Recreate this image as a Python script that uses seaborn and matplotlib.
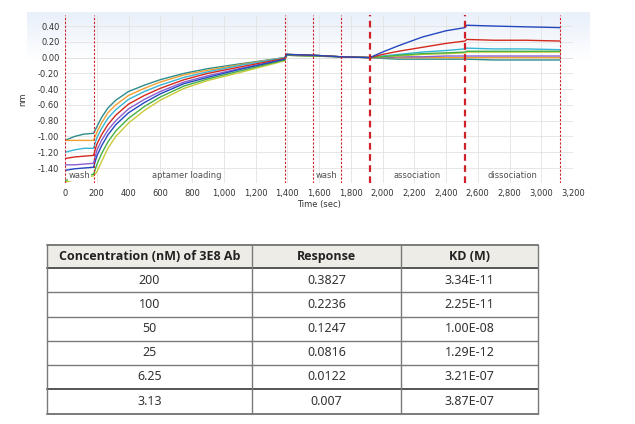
import numpy as np
import pandas as pd
import matplotlib
matplotlib.use("Agg")
import matplotlib.pyplot as plt
from matplotlib.patches import Rectangle
from matplotlib.ticker import FuncFormatter
import seaborn as sns

# ---------------- data ----------------
times = [0, 60, 120, 180, 200, 230, 270, 320, 400, 500, 600, 750, 900, 1100, 1385,
         1395, 1560, 1740, 1920, 2000, 2100, 2250, 2400, 2520, 2530, 2700, 2900, 3120]

teal   = [-1.05, -1.00, -0.97, -0.96, -0.88, -0.76, -0.64, -0.54, -0.43, -0.35, -0.28, -0.20, -0.14, -0.08, 0.00,
          0.04, 0.03, 0.01, 0.00, -0.01, -0.02, -0.02, -0.02, -0.02, -0.02, -0.03, -0.03, -0.03]
orange = [-1.05, -1.05, -1.05, -1.05, -0.95, -0.83, -0.70, -0.60, -0.48, -0.39, -0.31, -0.22, -0.16, -0.09, 0.00,
          0.04, 0.03, 0.01, 0.00, 0.00, 0.00, 0.00, 0.00, 0.00, 0.00, 0.00, 0.00, 0.00]
cyan   = [-1.20, -1.17, -1.15, -1.15, -1.02, -0.90, -0.77, -0.66, -0.53, -0.43, -0.35, -0.25, -0.18, -0.10, 0.00,
          0.04, 0.03, 0.01, 0.00, 0.02, 0.04, 0.07, 0.09, 0.11, 0.12, 0.11, 0.11, 0.10]
red    = [-1.28, -1.26, -1.25, -1.24, -1.10, -0.98, -0.85, -0.73, -0.59, -0.48, -0.39, -0.28, -0.20, -0.12, -0.01,
          0.04, 0.03, 0.01, 0.00, 0.04, 0.08, 0.13, 0.18, 0.21, 0.23, 0.22, 0.22, 0.21]
purple = [-1.36, -1.36, -1.35, -1.34, -1.18, -1.05, -0.92, -0.80, -0.65, -0.53, -0.43, -0.31, -0.23, -0.14, -0.02,
          0.03, 0.02, 0.01, 0.00, 0.00, 0.01, 0.01, 0.02, 0.02, 0.02, 0.02, 0.02, 0.02]
blue   = [-1.43, -1.41, -1.40, -1.39, -1.25, -1.12, -0.98, -0.85, -0.70, -0.57, -0.46, -0.33, -0.25, -0.15, -0.02,
          0.04, 0.03, 0.01, 0.00, 0.07, 0.15, 0.26, 0.34, 0.38, 0.41, 0.40, 0.39, 0.38]
green  = [-1.56, -1.53, -1.50, -1.48, -1.36, -1.22, -1.07, -0.93, -0.77, -0.62, -0.50, -0.36, -0.27, -0.17, -0.03,
          0.03, 0.02, 0.01, 0.00, 0.01, 0.03, 0.05, 0.06, 0.07, 0.08, 0.08, 0.08, 0.08]
yellow = [-1.58, -1.55, -1.52, -1.50, -1.45, -1.32, -1.15, -1.00, -0.83, -0.67, -0.54, -0.39, -0.29, -0.19, -0.04,
          0.03, 0.02, 0.01, 0.00, 0.01, 0.02, 0.04, 0.05, 0.06, 0.07, 0.07, 0.07, 0.07]

series_names = ["teal", "orange", "cyan", "purple", "yellow", "green", "red", "blue"]
series_values = [teal, orange, cyan, purple, yellow, green, red, blue]
series_colors = ["#2b8c8c", "#f0a030", "#35b5d5", "#8a5fd0", "#c9c93a", "#45b045", "#d42a1e", "#2448c0"]

step_times = [0, 180, 1385, 1560, 1740, 1920, 2520, 3120]
step_bold = [False, False, False, False, False, True, True, False]
step_names = ["wash", "aptamer loading", "wash", "association", "dissociation"]
step_label_x = [90, 770, 1650, 2220, 2820]

x_ticks = list(range(0, 3201, 200))
y_ticks = [0.40, 0.20, 0.00, -0.20, -0.40, -0.60, -0.80, -1.00, -1.20, -1.40]

table_header = ["Concentration (nM) of 3E8 Ab", "Response", "KD (M)"]
concentrations = ["200", "100", "50", "25", "6.25", "3.13"]
responses = ["0.3827", "0.2236", "0.1247", "0.0816", "0.0122", "0.007"]
kd_values = ["3.34E-11", "2.25E-11", "1.00E-08", "1.29E-12", "3.21E-07", "3.87E-07"]

# ---------------- figure ----------------
sns.set_theme(style="white")
plt.rcParams["font.family"] = ["DejaVu Sans"]

W, H = 635, 424
fig = plt.figure(figsize=(W / 100, H / 100), dpi=100)
fig.patch.set_facecolor("white")

def fbox(x0, y0, x1, y1):
    return [x0 / W, 1 - y1 / H, (x1 - x0) / W, (y1 - y0) / H]

# gradient background panel
bg = fig.add_axes(fbox(27, 12, 590, 186), zorder=0)
grad = np.linspace(0, 1, 200).reshape(-1, 1)
top_col = np.array([0.91, 0.94, 0.98])
white = np.array([1.0, 1.0, 1.0])
w = np.clip(grad / 0.28, 0, 1)
img = (top_col[None, None, :] * (1 - w[..., None]) + white[None, None, :] * w[..., None])
bg.imshow(img, aspect="auto", extent=[0, 1, 0, 1])
bg.set_axis_off()

ax = fig.add_axes(fbox(65, 15, 573, 183), zorder=1)
ax.set_facecolor("none")

rows = []
for name, vals in zip(series_names, series_values):
    for t, v in zip(times, vals):
        rows.append({"time": t, "value": v, "series": name})
df = pd.DataFrame(rows)

sns.lineplot(data=df, x="time", y="value", hue="series", hue_order=series_names,
             palette=dict(zip(series_names, series_colors)), estimator=None,
             sort=False, legend=False, lw=1.0, ax=ax)

for t, b in zip(step_times, step_bold):
    ax.axvline(t, color="#d0202a", lw=1.6 if b else 0.8,
               ls=(0, (3, 2)) if b else (0, (2, 1.5)), zorder=3)

for name, xpos in zip(step_names, step_label_x):
    ax.text(xpos, -1.50, name, ha="center", va="center", fontsize=6, color="#505050",
            bbox=dict(facecolor="white", edgecolor="none", pad=0.5) if name == "wash" and xpos < 200 else None,
            zorder=4)

ax.set_xlim(0, 3200)
ax.set_ylim(-1.59, 0.54)
ax.set_xticks(x_ticks)
ax.set_yticks(y_ticks)
ax.xaxis.set_major_formatter(FuncFormatter(lambda v, p: f"{int(v):,}"))
ax.yaxis.set_major_formatter(FuncFormatter(lambda v, p: f"{v:.2f}"))
ax.tick_params(axis="both", labelsize=6, length=0, pad=4, colors="#333333")
ax.grid(True, color="#e3e3e3", lw=0.6)
ax.axhline(0, color="#d0d0d0", lw=0.7, zorder=0)
for s in ax.spines.values():
    s.set_visible(False)
ax.set_xlabel("Time (sec)", fontsize=6, color="#333333", labelpad=2)
ax.set_ylabel("nm", fontsize=6, color="#333333", labelpad=8)

# ---------------- table ----------------
tab = fig.add_axes([0, 0, 1, 1], zorder=2)
tab.set_xlim(0, W)
tab.set_ylim(H, 0)
tab.set_axis_off()
tab.patch.set_alpha(0)

col_x = [47, 252, 401, 538]
row_y = [245, 268, 292, 317, 341, 365, 389, 414]

tab.add_patch(Rectangle((col_x[0], row_y[0]), col_x[-1] - col_x[0], row_y[1] - row_y[0],
                        facecolor="#eeece6", edgecolor="none"))
line_col = "#7a7a7a"
for i, y in enumerate(row_y):
    lw = 1.4 if i in (0, 1, 6, 7) else 1.0
    tab.plot([col_x[0], col_x[-1]], [y, y], color=line_col if i not in (1, 6) else "#555555", lw=lw)
for x in col_x:
    tab.plot([x, x], [row_y[0], row_y[-1]], color=line_col, lw=1.0)

hfont = ["Open Sans", "DejaVu Sans"]
tfont = ["Noto Sans", "DejaVu Sans"]
for j, txt in enumerate(table_header):
    tab.text((col_x[j] + col_x[j + 1]) / 2, (row_y[0] + row_y[1]) / 2, txt, ha="center", va="center",
             fontsize=9, fontweight="bold", family=hfont, color="#222222")
for i in range(len(concentrations)):
    yc = (row_y[i + 1] + row_y[i + 2]) / 2
    for j, txt in enumerate([concentrations[i], responses[i], kd_values[i]]):
        tab.text((col_x[j] + col_x[j + 1]) / 2, yc, txt, ha="center", va="center",
                 fontsize=9, family=tfont, color="#333333")

fig.savefig("out.png", dpi=100, facecolor="white")
